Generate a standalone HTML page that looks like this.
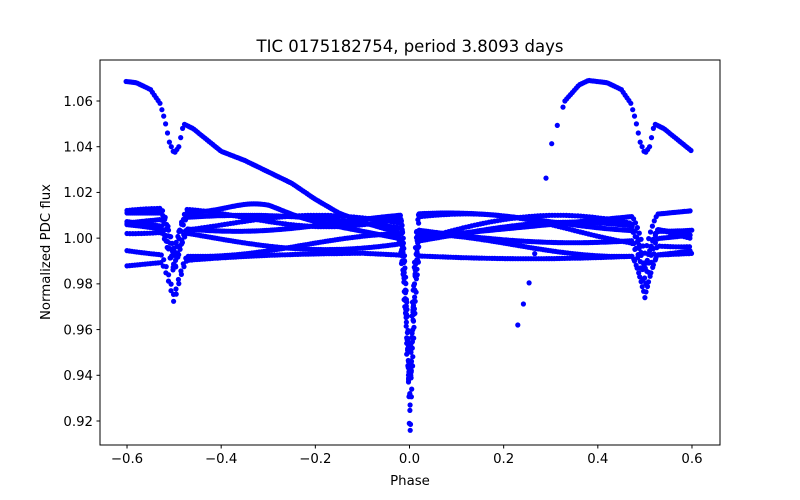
<!DOCTYPE html>
<html><head><meta charset="utf-8"><style>
html,body{margin:0;padding:0;background:#fff;}
svg{display:block;font-family:"DejaVu Sans","Liberation Sans",sans-serif;}
</style></head><body>
<svg id="s" width="800" height="500" xmlns="http://www.w3.org/2000/svg">
<rect width="800" height="500" fill="#fff"/>
<g id="pts" fill="#0000ff"></g>
<rect x="100" y="60" width="620" height="385" fill="none" stroke="#000" stroke-width="1"/>
<g id="ax" font-size="13.3" fill="#000"></g>
<text x="410" y="52" font-size="16.5" text-anchor="middle">TIC 0175182754, period 3.8093 days</text>
<text x="410" y="485" font-size="13.3" text-anchor="middle">Phase</text>
<text transform="translate(50,252) rotate(-90)" font-size="13.3" text-anchor="middle">Normalized PDC flux</text>
</svg>
<script>
var NS="http://www.w3.org/2000/svg";
function X(p){return 409.5+p*470.8;}
function Y(v){return 101+(1.06-v)*2285.7;}
var ax=document.getElementById('ax');
function el(t,a,txt){var e=document.createElementNS(NS,t);for(var k in a)e.setAttribute(k,a[k]);if(txt!=null)e.textContent=txt;ax.appendChild(e);}
[-0.6,-0.4,-0.2,0,0.2,0.4,0.6].forEach(function(p){var x=X(p);el('line',{x1:x,x2:x,y1:445,y2:448.5,stroke:'#000'});
el('text',{x:x,y:463,'text-anchor':'middle'},(p<0?'\u2212':'')+Math.abs(p).toFixed(1));});
for(var i=0;i<8;i++){var v=0.92+i*0.02;var y=Y(v);el('line',{x1:96.5,x2:100,y1:y,y2:y,stroke:'#000'});
el('text',{x:93,y:y+4.8,'text-anchor':'end'},v.toFixed(2));}
var g=document.getElementById('pts');
function pt(p,v){if(p<-0.602||p>0.602)return;var c=document.createElementNS(NS,'circle');c.setAttribute('cx',X(p).toFixed(1));c.setAttribute('cy',Y(v).toFixed(1));c.setAttribute('r','2.6');g.appendChild(c);}
function ecl(p){var a=Math.abs(p);var d=0;
 if(a<0.02)d+=0.075*Math.pow(1-a/0.02,1.6);
 var b=Math.abs(a-0.5);if(b<0.028)d+=0.018*Math.pow(1-b/0.028,1.4);return d;}
var bands=[
 function(p){return p<0?1.011-0.012*Math.max(0,p+0.3)/0.3+0.004*Math.exp(-Math.pow((p+0.33)/0.08,2)):1.0+0.012*p/0.6;},
 function(p){return 1.007+0.004*Math.sin(p*7+1);},
 function(p){return 1.004-0.006*Math.sin(p*4.5);},
 function(p){return 1.001+0.006*Math.sin(p*6-0.5);},
 function(p){return 0.997+0.005*Math.cos(p*7);},
 function(p){return 0.993-0.002*Math.sin(p*5+0.3)-0.003*Math.max(0,-p-0.1)*4;},
 function(p){return 1.009-0.016*Math.max(0,p)+0.004*Math.sin(p*9);},
 function(p){return p<0?1.006-0.004*Math.sin(p*8):0.998+0.012*Math.sin(p*5);}
];
bands.forEach(function(f,k){for(var p=-0.6;p<=0.6;p+=0.004+k*0.0003){pt(p,f(p)-ecl(p)*(0.92+0.02*k));}
 for(var p=-0.02;p<=0.02;p+=0.0025){pt(p+k*0.0003,f(p)-ecl(p)*(0.92+0.02*k));}});
var K=[[0.23,0.962],[0.26,0.985],[0.3,1.04],[0.33,1.06],[0.36,1.067],[0.38,1.069],[0.42,1.068],[0.45,1.065],[0.47,1.059],[0.48,1.052],[0.49,1.042],[0.5,1.037],[0.51,1.04],[0.52,1.05],[0.54,1.048],[0.6,1.038],[0.65,1.034],[0.7,1.029],[0.75,1.024],[0.8,1.017],[0.85,1.011],[0.9,1.007],[0.95,1.004],[0.975,1.003],[0.985,0.99],[1.0,0.93]];
function U(p){for(var i=0;i<K.length-1;i++){if(p>=K[i][0]&&p<=K[i+1][0]){var t=(p-K[i][0])/(K[i+1][0]-K[i][0]);return K[i][1]+t*(K[i+1][1]-K[i][1]);}}return null;}
for(var p=0.23;p<=1.0;p+=0.004){var v=U(p);if(p<0.33&&Math.round(p*1000)%12>3)continue;pt(p,v);pt(p-1,v);}
</script>
</body></html>
